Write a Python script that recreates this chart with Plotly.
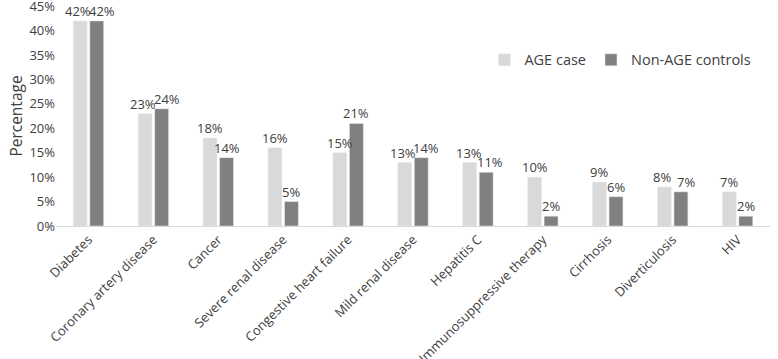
import plotly.graph_objects as go

categories = ["Diabetes", "Coronary artery disease", "Cancer", "Severe renal disease",
              "Congestive heart failure", "Mild renal disease", "Hepatitis C",
              "Immunosuppressive therapy", "Cirrhosis", "Diverticulosis", "HIV"]
age_case = [42, 23, 18, 16, 15, 13, 13, 10, 9, 8, 7]
non_age_controls = [42, 24, 14, 5, 21, 14, 11, 2, 6, 7, 2]
y_ticks = [0, 5, 10, 15, 20, 25, 30, 35, 40, 45]

font = "Open Sans"
txtcol = "#404040"

W, H = 778, 359
ml, mr, mt, mb = 56, 8, 6, 133
bargap, bargroupgap = 0.49, 0.16
cat_px = (W - ml - mr) / len(categories)
half_off = cat_px * (1 - bargap) / 4  # center offset of each bar in a group

fig = go.Figure()
fig.add_trace(go.Bar(x=categories, y=age_case, name="AGE case", marker_color="#D9D9D9"))
fig.add_trace(go.Bar(x=categories, y=non_age_controls, name="Non-AGE controls", marker_color="#808080"))

annotations = []
for cat, a, b in zip(categories, age_case, non_age_controls):
    d = abs(a - b)
    la, lb = (2, 5) if d <= 1 else ((1, 4) if d <= 2 else (0, 0))
    annotations.append(dict(x=cat, y=a, xref="x", yref="y", text=f"{a}%", showarrow=False,
                            yanchor="bottom", xshift=-half_off - la, yshift=-1,
                            font=dict(size=13, color=txtcol, family=font)))
    annotations.append(dict(x=cat, y=b, xref="x", yref="y", text=f"{b}%", showarrow=False,
                            yanchor="bottom", xshift=half_off + lb, yshift=-1,
                            font=dict(size=13, color=txtcol, family=font)))

fig.update_layout(
    width=W, height=H,
    margin=dict(l=ml, r=mr, t=mt, b=mb),
    plot_bgcolor="white", paper_bgcolor="white",
    barmode="group", bargap=bargap, bargroupgap=bargroupgap,
    font=dict(family=font, size=13, color=txtcol),
    annotations=annotations,
    legend=dict(orientation="h", x=0.6, y=0.755, xanchor="left", yanchor="middle",
                font=dict(size=14.5, color=txtcol), bgcolor="rgba(0,0,0,0)"),
    yaxis=dict(range=[0, 45.05], tickvals=y_ticks, ticktext=[f"{v}%" for v in y_ticks],
               showgrid=False, zeroline=False, showline=False, automargin=False,
               ticklabeloverflow="allow",
               title=dict(text="Percentage", font=dict(size=15.5, color=txtcol), standoff=2),
               tickfont=dict(size=13, color=txtcol)),
    xaxis=dict(showline=True, linecolor="#D9D9D9", linewidth=1, tickangle=-45, automargin=False,
               tickfont=dict(size=13, color=txtcol), showgrid=False),
)
fig.write_html("out.html", config={"displayModeBar": False},
               post_script="document.body.style.margin='0';")
